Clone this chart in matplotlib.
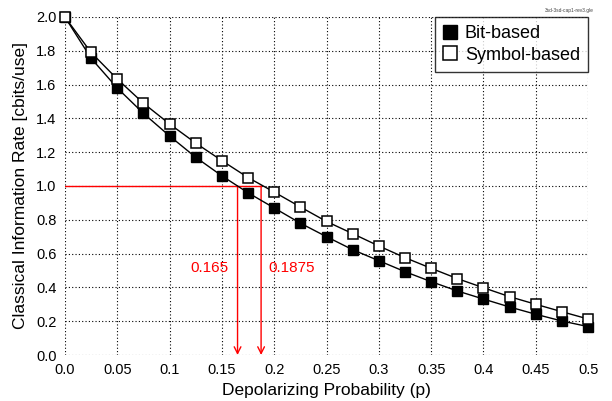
import matplotlib
matplotlib.use("Agg")
import matplotlib.pyplot as plt
import numpy as np

plt.rcParams["font.family"] = ["Liberation Sans", "DejaVu Sans"]

# depolarizing probability
p = [0.0, 0.025, 0.05, 0.075, 0.1, 0.125, 0.15, 0.175, 0.2, 0.225, 0.25,
     0.275, 0.3, 0.325, 0.35, 0.375, 0.4, 0.425, 0.45, 0.475, 0.5]
bit_based = [2.0, 1.756, 1.58, 1.43, 1.296, 1.17, 1.06, 0.96, 0.87, 0.78, 0.70,
             0.623, 0.558, 0.493, 0.434, 0.379, 0.331, 0.284, 0.241, 0.201, 0.168]
symbol_based = [2.0, 1.79, 1.633, 1.49, 1.367, 1.254, 1.15, 1.05, 0.964, 0.876, 0.79,
                0.718, 0.645, 0.576, 0.513, 0.452, 0.398, 0.345, 0.30, 0.256, 0.213]
thresholds = [0.165, 0.1875]
threshold_labels = ["0.165", "0.1875"]
xticks = [0.0, 0.05, 0.1, 0.15, 0.2, 0.25, 0.3, 0.35, 0.4, 0.45, 0.5]
xticklabels = ["0.0", "0.05", "0.1", "0.15", "0.2", "0.25", "0.3", "0.35", "0.4", "0.45", "0.5"]
yticks = np.round(np.arange(0, 2.01, 0.2), 1)

fig = plt.figure(figsize=(6.12, 4.01), dpi=100)
ax = fig.add_axes([0.106, 0.1147, 0.855, 0.843])

ax.plot(p, bit_based, "-s", color="black", lw=1, ms=7.5, mfc="black", mec="black",
        label="Bit-based", zorder=3, clip_on=False)
ax.plot(p, symbol_based, "-s", color="black", lw=1, ms=7.5, mfc="white", mec="black",
        mew=1.1, label="Symbol-based", zorder=3, clip_on=False)

# red guide lines
ax.plot([0, max(thresholds)], [1.0, 1.0], color="red", lw=1, zorder=2)
for t in thresholds:
    ax.annotate("", xy=(t, 0.0), xytext=(t, 1.0),
                arrowprops=dict(arrowstyle="->", color="red", lw=1,
                                mutation_scale=12, shrinkA=0, shrinkB=0),
                zorder=2)
ax.text(0.1195, 0.515, threshold_labels[0], color="red", fontsize=11, va="center")
ax.text(0.194, 0.515, threshold_labels[1], color="red", fontsize=11, va="center")

ax.set_xlim(0, 0.5)
ax.set_ylim(0, 2.0)
ax.set_xticks(xticks)
ax.set_xticklabels(xticklabels)
ax.set_yticks(yticks)
ax.set_yticklabels([f"{v:.1f}" for v in yticks])
ax.tick_params(length=0, labelsize=10.5, pad=6)
ax.grid(True, linestyle=(0, (1, 2)), color="black", lw=0.8)
for s in ax.spines.values():
    s.set_visible(False)

ax.set_xlabel("Depolarizing Probability (p)", fontsize=12.5, labelpad=4)
ax.set_ylabel("Classical Information Rate [cbits/use]", fontsize=12.5, labelpad=6)

leg = ax.legend(loc="upper right", fontsize=13, frameon=True, fancybox=False,
                edgecolor="black", handlelength=0.8, handletextpad=0.4,
                borderpad=0.45, labelspacing=0.25, borderaxespad=0, markerscale=1.25)
leg.set_zorder(5)
for h in leg.get_lines():
    h.set_linestyle("none")
leg.get_frame().set_linewidth(1)

fig.text(0.93, 0.975, "3sd-3sd-cap1-rev3.gle", fontsize=3.5, ha="center", va="center",
         color="#444444")

fig.savefig("out.png", dpi=100)
